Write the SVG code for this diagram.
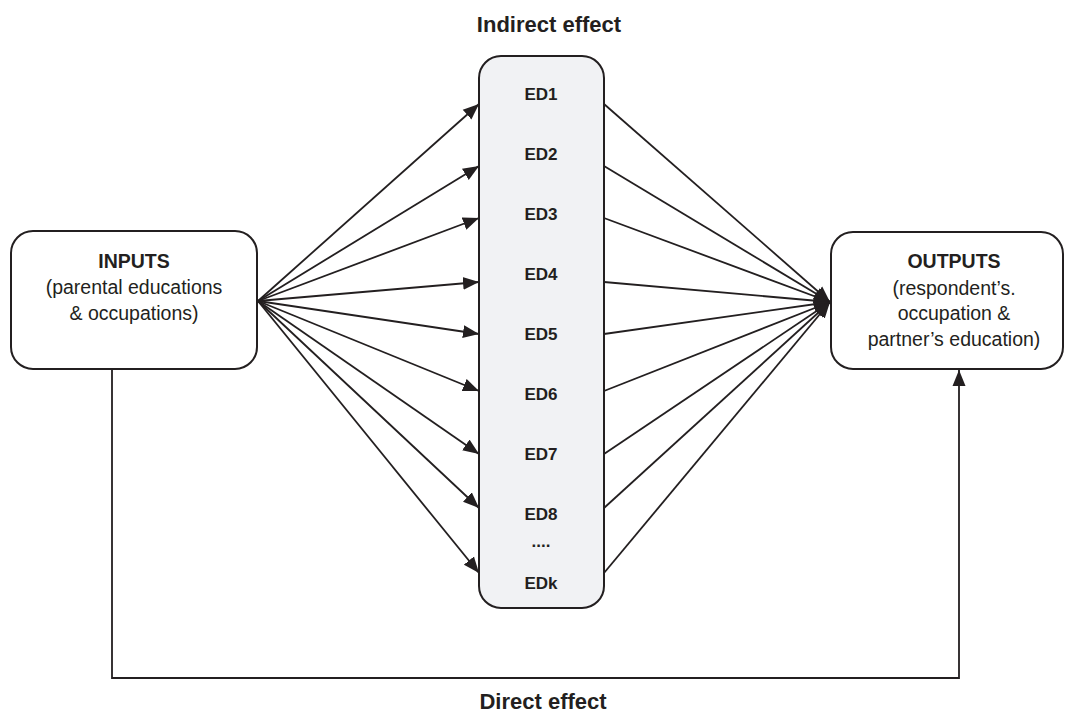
<svg xmlns="http://www.w3.org/2000/svg" width="1066" height="714" viewBox="0 0 1066 714">
<style>
.box{fill:#ffffff;stroke:#231f20;stroke-width:2}
.mid{fill:#f1f2f4;stroke:#231f20;stroke-width:2}
.t{font-family:"Liberation Sans",Arial,sans-serif;fill:#231f20;text-anchor:middle}
.b{font-weight:bold}
.n{font-size:19.5px}
.ed{font-size:17px;font-weight:bold}
.h{font-size:22px;font-weight:bold}
.c{fill:none;stroke:#231f20;stroke-width:1.8}
</style>
<defs>
<marker id="ah" markerUnits="userSpaceOnUse" markerWidth="18" markerHeight="14" viewBox="0 0 18 14" refX="16" refY="7" orient="auto">
<path d="M0,0.5 L16,7 L0,13.5 z" fill="#231f20"/>
</marker>
</defs>
<rect width="1066" height="714" fill="#ffffff"/>
<text class="t h" x="549" y="32">Indirect effect</text>
<text class="t h" x="543" y="709">Direct effect</text>
<g id="inputs">
<rect class="box" x="11" y="231" width="246" height="138" rx="22" ry="22"/>
<text class="t n b" x="134" y="268" font-size="18">INPUTS</text>
<text class="t n" x="134" y="294">(parental educations</text>
<text class="t n" x="134" y="320">&amp; occupations)</text>
</g>
<g id="mediators">
<rect class="mid" x="479" y="56" width="125" height="552" rx="22" ry="22"/>
<text class="t ed" x="541" y="100">ED1</text>
<text class="t ed" x="541" y="160">ED2</text>
<text class="t ed" x="541" y="220">ED3</text>
<text class="t ed" x="541" y="280">ED4</text>
<text class="t ed" x="541" y="340">ED5</text>
<text class="t ed" x="541" y="400">ED6</text>
<text class="t ed" x="541" y="460">ED7</text>
<text class="t ed" x="541" y="520">ED8</text>
<text class="t ed" x="541" y="547">....</text>
<text class="t ed" x="541" y="589">EDk</text>
</g>
<g id="outputs">
<rect class="box" x="831" y="232" width="232" height="137" rx="22" ry="22"/>
<text class="t n b" x="954" y="268">OUTPUTS</text>
<text class="t n" x="954" y="295">(respondent’s.</text>
<text class="t n" x="954" y="320">occupation &amp;</text>
<text class="t n" x="954" y="346">partner’s education)</text>
</g>
<g id="connectors">
<line class="c" x1="258" y1="301" x2="479" y2="104" marker-end="url(#ah)"/>
<line class="c" x1="258" y1="301" x2="479" y2="166" marker-end="url(#ah)"/>
<line class="c" x1="258" y1="301" x2="479" y2="218" marker-end="url(#ah)"/>
<line class="c" x1="258" y1="301" x2="479" y2="282" marker-end="url(#ah)"/>
<line class="c" x1="258" y1="301" x2="479" y2="334" marker-end="url(#ah)"/>
<line class="c" x1="258" y1="301" x2="479" y2="391" marker-end="url(#ah)"/>
<line class="c" x1="258" y1="301" x2="479" y2="454" marker-end="url(#ah)"/>
<line class="c" x1="258" y1="301" x2="479" y2="508" marker-end="url(#ah)"/>
<line class="c" x1="258" y1="301" x2="479" y2="573" marker-end="url(#ah)"/>
<line class="c" x1="604" y1="104" x2="830" y2="302" marker-end="url(#ah)"/>
<line class="c" x1="604" y1="166" x2="830" y2="302" marker-end="url(#ah)"/>
<line class="c" x1="604" y1="218" x2="830" y2="302" marker-end="url(#ah)"/>
<line class="c" x1="604" y1="282" x2="830" y2="302" marker-end="url(#ah)"/>
<line class="c" x1="604" y1="334" x2="830" y2="302" marker-end="url(#ah)"/>
<line class="c" x1="604" y1="391" x2="830" y2="302" marker-end="url(#ah)"/>
<line class="c" x1="604" y1="454" x2="830" y2="302" marker-end="url(#ah)"/>
<line class="c" x1="604" y1="508" x2="830" y2="302" marker-end="url(#ah)"/>
<line class="c" x1="604" y1="573" x2="830" y2="302" marker-end="url(#ah)"/>
<path class="c" d="M112,369 V678 H959 V370" marker-end="url(#ah)"/>
</g>
</svg>
